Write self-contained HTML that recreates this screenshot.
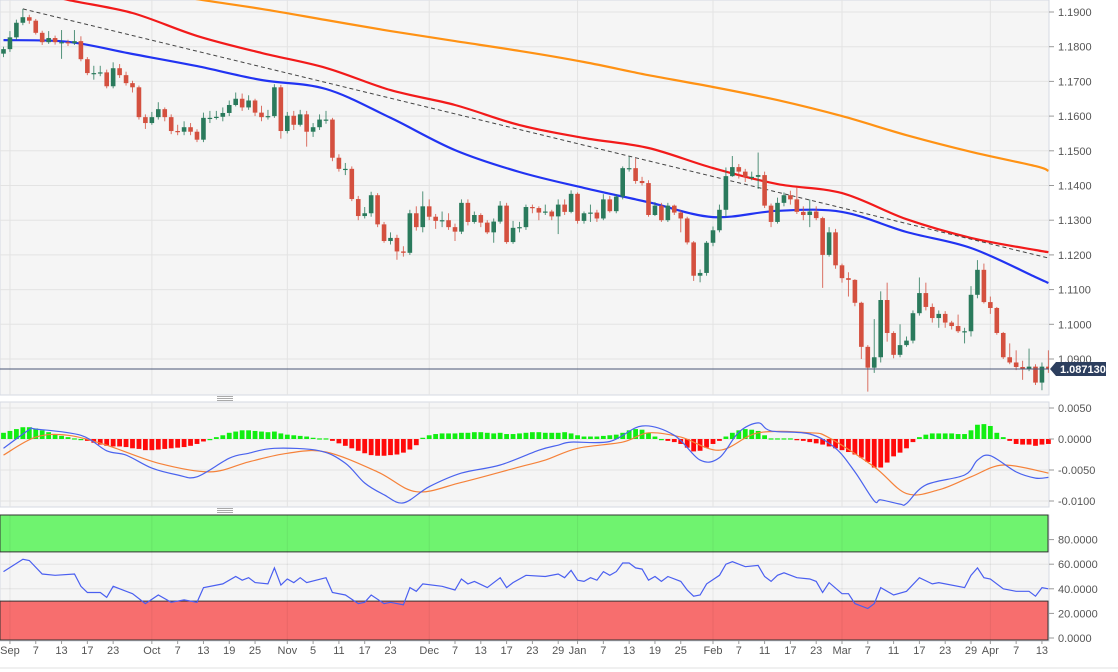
<!DOCTYPE html>
<html><head><meta charset="utf-8"><style>
html,body{margin:0;padding:0;background:#fff;}
svg{display:block;font-family:"Liberation Sans",sans-serif;}
</style></head><body>
<svg id="chart" width="1118" height="672" viewBox="0 0 1118 672">
<g id="bg"></g><g id="grid"></g><g id="marks"></g><g id="axes"></g>
</svg>
<script>
// ---- data ----
const firstOpen = 1.1780;
const closes = [1.1793,1.1827,1.1869,1.1885,1.1875,1.1840,1.1813,1.1825,1.1813,1.1813,1.1810,1.1816,1.1764,1.1724,1.1724,1.1726,1.1686,1.1738,1.1718,1.1695,1.1683,1.1597,1.1580,1.1597,1.1620,1.1597,1.1557,1.1555,1.1568,1.1555,1.1532,1.1595,1.1595,1.1598,1.1609,1.1632,1.1650,1.1625,1.1645,1.1610,1.1597,1.1600,1.1683,1.1557,1.1601,1.1575,1.1605,1.1555,1.1568,1.1590,1.1590,1.1480,1.1448,1.1448,1.1361,1.1312,1.1320,1.1372,1.1288,1.1240,1.1249,1.1210,1.1206,1.1320,1.1280,1.1340,1.1310,1.1298,1.1300,1.1280,1.1267,1.1350,1.1295,1.1315,1.1293,1.1265,1.1296,1.1342,1.1237,1.1278,1.1280,1.1338,1.1335,1.1322,1.1325,1.1311,1.1345,1.1324,1.1376,1.1298,1.1320,1.1322,1.1305,1.1360,1.1326,1.1368,1.1450,1.1450,1.1413,1.1407,1.1315,1.1342,1.1300,1.1342,1.1322,1.1305,1.1236,1.1140,1.1148,1.1235,1.1271,1.1330,1.1427,1.1453,1.1440,1.1425,1.1425,1.1430,1.1342,1.1295,1.1350,1.1372,1.1360,1.1324,1.1315,1.1325,1.1306,1.1200,1.1265,1.1170,1.1133,1.1128,1.1062,1.0935,1.0875,1.0905,1.1070,1.0975,1.0912,1.0940,1.0953,1.1032,1.1090,1.1050,1.1018,1.1030,1.1005,1.0995,1.0980,1.0980,1.1085,1.1157,1.1064,1.1047,1.0975,1.0905,1.0890,1.0877,1.0872,1.0878,1.0832,1.0878,1.0871];
const highs = [1.1800,1.1845,1.1878,1.1909,1.1892,1.1880,1.1846,1.1845,1.1832,1.1848,1.1820,1.1848,1.1830,1.1770,1.1745,1.1745,1.1734,1.1755,1.1750,1.1728,1.1702,1.1688,1.1605,1.1612,1.1640,1.1625,1.1605,1.1575,1.1585,1.1580,1.1562,1.1610,1.1615,1.1615,1.1625,1.1645,1.1668,1.1665,1.1660,1.1650,1.1630,1.1618,1.1692,1.1690,1.1612,1.1615,1.1618,1.1615,1.1580,1.1605,1.1615,1.1595,1.1490,1.1465,1.1455,1.1370,1.1338,1.1382,1.1378,1.1295,1.1265,1.1258,1.1225,1.1330,1.1340,1.1383,1.1360,1.1318,1.1325,1.1320,1.1290,1.1360,1.1360,1.1325,1.1320,1.1300,1.1305,1.1355,1.1350,1.1298,1.1295,1.1345,1.1345,1.1340,1.1345,1.1330,1.1360,1.1360,1.1386,1.1380,1.1325,1.1345,1.1330,1.1375,1.1370,1.1375,1.1455,1.1483,1.1478,1.1425,1.1415,1.1352,1.1350,1.1350,1.1345,1.1328,1.1310,1.1240,1.1158,1.1240,1.1282,1.1345,1.1452,1.1485,1.1462,1.1448,1.1440,1.1495,1.1440,1.1348,1.1365,1.1380,1.1385,1.1395,1.1340,1.1360,1.1340,1.1310,1.1280,1.1275,1.1175,1.1150,1.1130,1.1065,1.0940,1.1015,1.1095,1.1120,1.0980,1.1000,1.0965,1.1040,1.1135,1.1120,1.1060,1.1040,1.1038,1.1010,1.1028,1.0990,1.1110,1.1185,1.1175,1.1080,1.1050,1.0978,1.0945,1.0925,1.0895,1.0930,1.0885,1.0890,1.0925];
const lows = [1.1770,1.1785,1.1820,1.1862,1.1866,1.1835,1.1805,1.1808,1.1806,1.1765,1.1802,1.1805,1.1758,1.1718,1.1705,1.1715,1.1680,1.1680,1.1710,1.1688,1.1668,1.1590,1.1563,1.1575,1.1590,1.1585,1.1548,1.1545,1.1545,1.1545,1.1525,1.1525,1.1580,1.1590,1.1585,1.1600,1.1628,1.1615,1.1618,1.1600,1.1585,1.1590,1.1595,1.1535,1.1550,1.1560,1.1570,1.1512,1.1540,1.1560,1.1578,1.1470,1.1440,1.1430,1.1355,1.1300,1.1305,1.1310,1.1280,1.1235,1.1230,1.1186,1.1195,1.1200,1.1270,1.1265,1.1300,1.1275,1.1280,1.1272,1.1240,1.1260,1.1285,1.1290,1.1280,1.1260,1.1235,1.1290,1.1232,1.1232,1.1265,1.1272,1.1320,1.1300,1.1315,1.1300,1.1260,1.1315,1.1320,1.1290,1.1290,1.1295,1.1295,1.1300,1.1322,1.1320,1.1360,1.1440,1.1405,1.1400,1.1310,1.1312,1.1295,1.1295,1.1315,1.1265,1.1230,1.1125,1.1121,1.1140,1.1225,1.1265,1.1310,1.1425,1.1420,1.1410,1.1415,1.1390,1.1335,1.1280,1.1290,1.1340,1.1345,1.1318,1.1300,1.1280,1.1300,1.1105,1.1195,1.1160,1.1120,1.1080,1.1052,1.0900,1.0806,1.0860,1.0890,1.0950,1.0902,1.0905,1.0935,1.0945,1.1025,1.1040,1.1005,1.0990,1.0990,1.0985,1.0975,1.0945,1.0965,1.1075,1.1060,1.1030,1.0970,1.0900,1.0885,1.0868,1.0840,1.0865,1.0825,1.0810,1.0860];
const lastPrice = 1.08713;
const priceTicks = [1.19,1.18,1.17,1.16,1.15,1.14,1.13,1.12,1.11,1.10,1.09];
const maIdx = [0,10,20,30,40,50,60,70,80,90,100,110,120,130,140,150,160,162];
const sma50 = [1.1819,1.1814,1.1779,1.1744,1.1704,1.1678,1.1595,1.1502,1.1439,1.1393,1.1352,1.1309,1.1327,1.1324,1.1266,1.1220,1.1136,1.1119];
const sma100 = [1.1978,1.1935,1.1897,1.1831,1.1782,1.1739,1.1675,1.1632,1.1574,1.1537,1.1508,1.1450,1.1404,1.1378,1.1303,1.1249,1.1214,1.1208];
const sma200 = [1.2021,1.1998,1.1969,1.1937,1.1909,1.1877,1.1845,1.1816,1.1788,1.1756,1.1718,1.1684,1.1646,1.1600,1.1545,1.1497,1.1456,1.1442];
const trendIdx = [3,162];
const trendVals = [1.1909,1.1191];
const histE4 = [10,13,16,19,19,17,14,11,8,5,3,1,0,
 -3,-6,-9,-11,-12,-12,-13,-15,-16,-18,-18,-17,-16,-15,-14,-13,-11,-8,-4,0,
 3,6,10,12,14,14,13,12,11,12,9,7,6,5,4,2,1,1,
 -3,-7,-11,-15,-19,-23,-26,-27,-27,-26,-25,-22,-17,-10,
 2,6,8,9,9,9,10,10,11,11,10,9,10,8,8,9,10,11,11,10,10,
 10,11,9,6,4,4,4,5,6,7,
 10,14,16,15,10,4,0,
 -3,-5,-8,-14,-20,-19,-14,-8,-3,
 4,10,14,16,15,13,6,1,1,1,1,
 -2,-3,-5,-7,-9,-12,-15,-18,-21,-25,-30,-37,-46,-46,-38,-28,-22,-15,-5,
 3,7,9,9,9,9,8,8,14,23,24,21,10,3,
 -3,-8,-9,-9,-11,-9,-8];
const macdIdx = [0,4,5,12,16,19,23,27,30,35,38,42,49,53,56,59,62,66,71,77,83,86,88,94,99,104,108,111,114,117,119,125,129,132,135,136,139,140,143,149,151,153,157,160,162];
const macdVals = [-0.0015,0.0015,0.0016,0.0006,-0.0019,-0.0026,-0.0047,-0.0058,-0.0061,-0.0031,-0.0023,-0.0015,-0.0019,-0.0039,-0.0071,-0.0090,-0.0103,-0.0077,-0.0055,-0.0042,-0.0018,-0.0010,-0.0005,-0.0004,0.0021,0.0006,-0.0034,-0.0030,0.0011,0.0026,0.0013,0.0008,-0.0015,-0.0053,-0.0100,-0.0098,-0.0105,-0.0104,-0.0074,-0.0058,-0.0034,-0.0027,-0.0053,-0.0063,-0.0062];
const sigIdx = [0,5,10,16,24,32,38,44,50,58,64,71,80,84,89,96,100,105,111,117,125,128,135,140,145,150,155,162];
const sigVals = [-0.0026,0.0003,0.0006,-0.0010,-0.0039,-0.0053,-0.0037,-0.0023,-0.0021,-0.0053,-0.0085,-0.0070,-0.0045,-0.0034,-0.0015,-0.0005,0.0010,0.0003,-0.0018,0.0010,0.0010,0.0002,-0.0045,-0.0088,-0.0082,-0.0061,-0.0042,-0.0055];
const macdTicks = [0.005,0,-0.005,-0.01];
const macdTickLabels = ["0.0050","0.0000","-0.0050","-0.0100"];
const rsiIdx = [0,3,4,6,8,11,12,13,15,16,17,20,22,24,26,28,30,31,34,36,37,38,39,41,42,43,44,45,46,47,50,51,53,55,56,57,59,60,62,63,64,65,68,70,71,72,73,75,77,78,79,81,84,86,87,88,89,90,91,92,93,94,95,96,97,98,99,100,101,102,103,105,106,107,108,109,111,112,113,115,117,118,119,120,121,123,125,126,127,128,130,131,132,134,135,136,138,140,142,144,145,149,150,151,152,153,155,157,159,160,161,162];
const rsiVals = [54,64,63,52,51,52,42,37,37,33,42,36,28,35,29,31,29,41,44,50,47,49,45,44,57,43,48,45,49,45,49,37,35,28,29,35,28,29,27,41,38,44,42,39,48,44,46,41,49,41,45,51,50,52,49,55,47,46,49,47,54,51,54,61,61,57,56,47,50,46,50,46,39,34,35,44,51,60,62,58,59,50,46,51,53,49,48,46,37,45,36,36,28,24,28,41,35,38,49,44,45,41,51,57,49,48,40,38,38,34,41,40];
const rsiTicks = [80,60,40,20,0];
const rsiTickLabels = ["80.0000","60.0000","40.0000","20.0000","0.0000"];
const dateLabels = ["Sep","7","13","17","23","Oct","7","13","19","25","Nov","5","11","17","23","Dec","7","13","17","23","29","Jan","7","13","19","25","Feb","7","11","17","23","Mar","7","11","17","23","29","Apr","7","13"];
const dateIdx = [1,5,9,13,17,23,27,31,35,39,44,48,52,56,60,66,70,74,78,82,86,89,93,97,101,105,110,114,118,122,126,130,134,138,142,146,150,153,157,161];
const monthIdx = [1,23,44,66,89,110,130,153];

// ---- scales ----
const X0 = 3.5, STEP = 6.45, PW = 1049;
const x = i => X0 + STEP * i;
const yP = p => 12 + (1.19 - p) * 3470;
const yM = v => 439 - v * 6200;
const yR = v => 638 - v * 1.23;
const NS = "http://www.w3.org/2000/svg";
function mk(tag, attrs, parent) {
  const e = document.createElementNS(NS, tag);
  for (const k in attrs) e.setAttribute(k, attrs[k]);
  parent.appendChild(e);
  return e;
}
const bg = document.getElementById('bg'), grid = document.getElementById('grid'),
      marks = document.getElementById('marks'), axes = document.getElementById('axes');

const panels = [[0,0,395,'main-panel'],[0,402,105,'macd-panel'],[0,515,126,'rsi-panel']];
panels.forEach(p => {
  const r = mk('rect', {x:p[0], y:p[1], width:PW, height:p[2], fill:'#f5f5f5', stroke:'#d5d9e2'}, bg);
  
  
});
[396, 508].forEach(y => {
  const g = mk('g', {}, bg);
  
  
  [0,2,4].forEach(d => mk('line', {x1:217, x2:233, y1:y+d+0.5, y2:y+d+0.5, stroke:'#aaa', 'stroke-width':1}, g));
});
const gz = mk('rect', {x:0, y:515, width:PW-1, height:yR(70)-515, fill:'#6ff36f', stroke:'#333', 'stroke-width':1}, bg);


const rz = mk('rect', {x:0, y:yR(30), width:PW-1, height:yR(0)-yR(30)+2, fill:'#f76e6e', stroke:'#333', 'stroke-width':1}, bg);



priceTicks.forEach(t => mk('line', {x1:0, x2:PW, y1:yP(t), y2:yP(t), stroke:'#e3e3e3'}, grid));
macdTicks.forEach(t => mk('line', {x1:0, x2:PW, y1:yM(t), y2:yM(t), stroke:'#e3e3e3'}, grid));
[60,40].forEach(t => mk('line', {x1:0, x2:PW, y1:yR(t), y2:yR(t), stroke:'#e3e3e3'}, grid));
monthIdx.forEach(i => {
  mk('line', {x1:x(i), x2:x(i), y1:0, y2:395, stroke:'#e3e3e3'}, grid);
  mk('line', {x1:x(i), x2:x(i), y1:402, y2:507, stroke:'#e3e3e3'}, grid);
  mk('line', {x1:x(i), x2:x(i), y1:515, y2:641, stroke:'rgba(0,0,0,0.06)'}, grid);
});

const defs = mk('defs', {}, marks);
const cp = mk('clipPath', {id:'clipMain'}, defs);
mk('rect', {x:0, y:0, width:PW, height:395}, cp);
const main = mk('g', {'clip-path':'url(#clipMain)'}, marks);

function linePath(idxs, vals, ys) {
  return idxs.map((i,k) => (k ? 'L' : 'M') + x(i).toFixed(1) + ',' + ys(vals[k]).toFixed(1)).join(' ');
}
function smoothPath(idxs, vals, ys) {
  const P = idxs.map((i,k) => [x(i), ys(vals[k])]);
  let d = 'M' + P[0][0].toFixed(1) + ',' + P[0][1].toFixed(1);
  for (let k = 0; k < P.length - 1; k++) {
    const p0 = P[Math.max(k-1,0)], p1 = P[k], p2 = P[k+1], p3 = P[Math.min(k+2,P.length-1)];
    const c1 = [p1[0] + (p2[0]-p0[0])/6, p1[1] + (p2[1]-p0[1])/6];
    const c2 = [p2[0] - (p3[0]-p1[0])/6, p2[1] - (p3[1]-p1[1])/6];
    d += ' C' + c1[0].toFixed(1) + ',' + c1[1].toFixed(1) + ' ' + c2[0].toFixed(1) + ',' + c2[1].toFixed(1) + ' ' + p2[0].toFixed(1) + ',' + p2[1].toFixed(1);
  }
  return d;
}
[[sma200,'#ff9214','sma-200-line'],[sma100,'#f21a1a','sma-100-line'],[sma50,'#2133f2','sma-50-line']].forEach(s => {
  const p = mk('path', {d:smoothPath(maIdx, s[0], yP), fill:'none', stroke:s[1], 'stroke-width':2.2, 'stroke-linejoin':'round'}, main);
  
  
});
const tl = mk('path', {d:linePath(trendIdx, trendVals, yP), stroke:'#444', 'stroke-width':1, 'stroke-dasharray':'4,3', fill:'none'}, main);



closes.forEach((c, i) => {
  const o = i ? closes[i-1] : firstOpen;
  const up = c >= o;
  const col = up ? '#2a7a5c' : '#d4503f';
  const g = mk('g', {}, main);
  
  
  mk('line', {x1:x(i), x2:x(i), y1:yP(highs[i]), y2:yP(lows[i]), stroke:col, 'stroke-width':1, opacity:0.8}, g);
  const top = yP(Math.max(o,c)), bot = yP(Math.min(o,c));
  mk('rect', {x:x(i)-2.3, y:top, width:4.6, height:Math.max(bot-top, 1.2), fill:col}, g);
});
const lp = mk('line', {x1:0, x2:PW, y1:yP(lastPrice), y2:yP(lastPrice), stroke:'#4a5878', 'stroke-width':1}, marks);



histE4.forEach((h, i) => {
  const v = h / 10000;
  const r = mk('rect', {x:x(i)-2.4, y:Math.min(yM(0), yM(v)), width:4.8, height:Math.max(Math.abs(yM(v)-yM(0)), 1.2), fill: v >= 0 ? '#11ee11' : '#ff0a0a'}, marks);
  
  
});
const sg = mk('path', {d:smoothPath(sigIdx, sigVals, yM), fill:'none', stroke:'#f5823a', 'stroke-width':1.2}, marks);


const ml = mk('path', {d:smoothPath(macdIdx, macdVals, yM), fill:'none', stroke:'#4a63ee', 'stroke-width':1.2}, marks);



const rl = mk('path', {d:linePath(rsiIdx, rsiVals, yR), fill:'none', stroke:'#4a5ff0', 'stroke-width':1.2}, marks);



function tick(y, label, name) {
  mk('line', {x1:PW, x2:PW+5, y1:y, y2:y, stroke:'#999'}, axes);
  const t = mk('text', {x:1058, y:y+4, 'font-size':11, fill:'#555'}, axes);
  t.textContent = label;
  
  
}
priceTicks.forEach(t => tick(yP(t), t.toFixed(4), 'price-axis-label'));
macdTicks.forEach((t,k) => tick(yM(t), macdTickLabels[k], 'macd-axis-label'));
rsiTicks.forEach((t,k) => tick(yR(t), rsiTickLabels[k], 'rsi-axis-label'));

const tag = mk('g', {}, axes);


const ly = yP(lastPrice);
mk('path', {d:`M1050,${ly} L1056,${ly-7} L1106,${ly-7} L1106,${ly+7} L1056,${ly+7} Z`, fill:'#2c3e5e'}, tag);
const lt = mk('text', {x:1060, y:ly+4, 'font-size':11, 'font-weight':'bold', fill:'#fff'}, tag);
lt.textContent = lastPrice.toFixed(6);

dateLabels.forEach((d, k) => {
  const t = mk('text', {x:x(dateIdx[k]), y:654, 'font-size':11, fill:'#555', 'text-anchor':'middle'}, axes);
  t.textContent = d;
  
  
  mk('line', {x1:x(dateIdx[k]), x2:x(dateIdx[k]), y1:641, y2:644, stroke:'#999'}, axes);
});
mk('line', {x1:0, x2:1118, y1:668, y2:668, stroke:'#e0e0e0'}, axes);
</script>
</body></html>
